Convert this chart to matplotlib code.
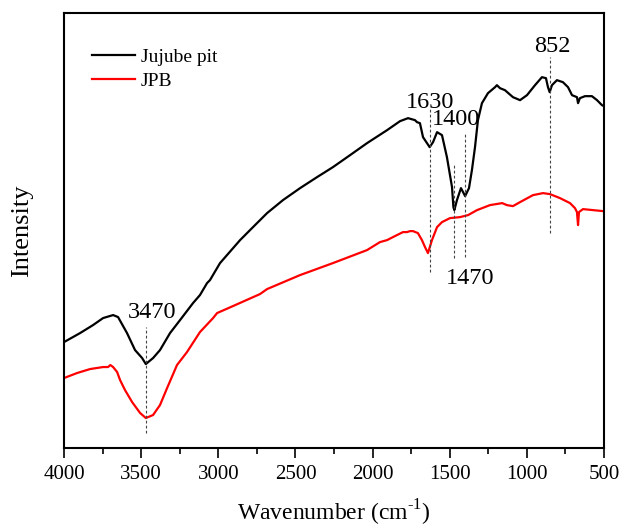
import matplotlib.pyplot as plt
import numpy as np

plt.rcParams['font.family'] = ['Liberation Serif', 'DejaVu Serif']
plt.rcParams['mathtext.fontset'] = 'custom'
plt.rcParams['mathtext.rm'] = 'Liberation Serif'

# FTIR spectra (wavenumber in cm-1, intensity in arbitrary units)
pit_wn = [4000, 3896, 3812, 3747, 3682, 3650, 3592, 3540, 3494, 3470, 3423,
          3378, 3313, 3248, 3164, 3119, 3073, 3054, 2989, 2859, 2775, 2684,
          2581, 2470, 2360, 2257, 2146, 2036, 1906, 1822, 1770, 1725, 1712,
          1693, 1673, 1630, 1608, 1582, 1550, 1518, 1485, 1476, 1470, 1453,
          1427, 1410, 1400, 1375, 1356, 1336, 1317, 1291, 1252, 1206, 1194,
          1174, 1142, 1090, 1044, 999, 947, 902, 876, 863, 852, 837, 805,
          766, 733, 707, 675, 668, 656, 623, 578, 545, 513, 500]
pit_int = [106, 115, 123, 130, 133, 131, 115, 98, 90, 84, 90,
           98, 115, 128, 145, 153, 165, 168, 185, 208, 221, 235,
           248, 260, 271, 281, 293, 305, 318, 327, 330, 328, 326,
           325, 311, 301, 306, 316, 313, 291, 261, 241, 238, 248,
           260, 255, 252, 260, 278, 301, 328, 345, 355, 361, 363,
           360, 358, 351, 348, 353, 363, 371, 370, 361, 356, 363, 368,
           366, 361, 353, 351, 345, 350, 352, 352, 348, 343, 342]

jpb_wn = [4000, 3916, 3831, 3747, 3715, 3700, 3682, 3656, 3637, 3605, 3559,
          3507, 3470, 3423, 3378, 3332, 3268, 3203, 3119, 3034, 3008, 2905,
          2730, 2684, 2470, 2257, 2036, 1952, 1906, 1868, 1803, 1777, 1757,
          1738, 1706, 1680, 1660, 1641, 1615, 1582, 1550, 1498, 1433, 1381,
          1323, 1239, 1160, 1129, 1090, 1044, 960, 895, 850, 785, 720, 688,
          675, 668, 662, 636, 571, 506, 500]
jpb_int = [70, 75, 79, 81, 81, 83, 81, 76, 68, 58, 46,
           35, 30, 33, 43, 60, 83, 96, 116, 130, 135, 142,
           154, 159, 173, 185, 198, 206, 208, 211, 216, 216, 217,
           217, 215, 208, 201, 195, 208, 221, 226, 230, 231, 233,
           238, 243, 245, 243, 242, 246, 253, 255, 254, 250, 245, 240,
           236, 223, 236, 239, 238, 237, 237]

# marked bands: wavenumber, label x, label y, line top, line bottom
peaks = [3470, 1630, 1400, 1470, 852]
label_x = [3430, 1628, 1462, 1370, 837]
label_y = [130, 340, 323, 164, 396]
line_top = [121, 340, 316, 285, 391]
line_bot = [15, 176, 191, 190, 215]

fig = plt.figure(figsize=(6.22, 5.28), dpi=100)
ax = fig.add_axes([0.103, 0.1515, 0.868, 0.8235])

ax.plot(pit_wn, pit_int, color='black', lw=1.6, label='Jujube pit')
ax.plot(jpb_wn, jpb_int, color='#ff0000', lw=1.6, label='JPB')

for wn, lx, ly, t, b in zip(peaks, label_x, label_y, line_top, line_bot):
    ax.plot([wn, wn], [b, t], color='#444444', lw=0.8, ls=(0, (2.5, 2)))
    ax.text(lx, ly, str(wn), fontsize=17.5, ha='center', va='baseline')

ax.set_xlim(4000, 500)
ax.set_ylim(0, 435)
ax.set_xticks(np.arange(4000, 499, -500))
ax.set_xticks(np.arange(3750, 500, -500), minor=True)
ax.tick_params(axis='x', which='major', direction='out', length=7, width=1.2,
               labelsize=15, pad=5)
ax.tick_params(axis='x', which='minor', direction='out', length=4, width=1.2)
ax.set_yticks([])
for s in ax.spines.values():
    s.set_linewidth(1.5)

ax.set_xlabel('Wavenumber (cm$^{\\mathrm{\\text{-1}}}$)', fontsize=17, labelpad=10)
ax.set_ylabel('Intensity', fontsize=19, labelpad=22)

ax.legend(loc='upper left', bbox_to_anchor=(0.02, 0.96), frameon=False,
          fontsize=14, handlelength=2.2, handletextpad=0.3, labelspacing=0.35)

fig.savefig('out.png', dpi=100)
